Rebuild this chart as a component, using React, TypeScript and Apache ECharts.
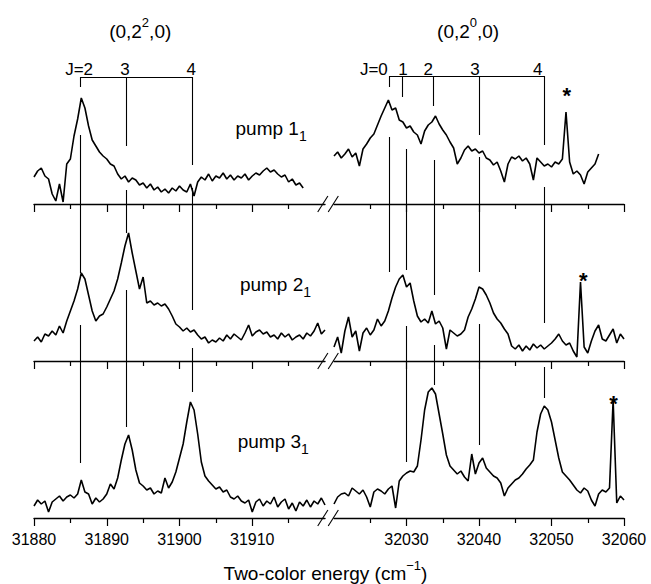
import React, { useEffect, useRef } from "react";
import * as echarts from "echarts";

// ---------- data ----------
const LEFT_START = 31880;
const RIGHT_START = 32020;
const STEP = 0.5;

const LEFT_RANGE = [31880, 31920];
const RIGHT_RANGE = [32020, 32060];
const LEFT_MAJOR = [31880, 31890, 31900, 31910];
const LEFT_MINOR = [31885, 31895, 31905, 31915];
const RIGHT_MAJOR = [32030, 32040, 32050, 32060];
const RIGHT_MINOR = [32025, 32035, 32045, 32055];

// pump 1_1 signal (arb. units), sampled every 0.5 cm-1
const PUMP1_LEFT = [27, 33, 36, 28, 25, 10, 3, 20, 2, 40, 45, 68, 85, 106, 96, 78, 64, 58, 52, 48, 45, 40, 38, 30, 25, 28, 22, 26, 24, 19, 21, 16, 20, 14, 17, 12, 15, 11, 16, 13, 18, 14, 12, 20, 8, 22, 27, 24, 30, 23, 28, 26, 31, 25, 29, 24, 28, 26, 30, 24, 28, 31, 29, 33, 36, 32, 34, 30, 27, 29, 22, 25, 19, 21, 16];
const PUMP1_RIGHT = [48, 52, 46, 50, 55, 47, 51, 38, 55, 60, 66, 70, 79, 88, 96, 104, 94, 96, 84, 82, 76, 78, 72, 69, 60, 73, 79, 82, 88, 80, 74, 69, 62, 56, 40, 46, 54, 58, 53, 55, 51, 53, 46, 44, 39, 42, 33, 22, 40, 47, 45, 48, 43, 46, 40, 24, 46, 42, 38, 40, 37, 42, 40, 45, 92, 42, 30, 33, 29, 20, 32, 36, 40, 50];
// pump 2_1
const PUMP2_LEFT = [20, 24, 19, 27, 25, 30, 26, 35, 28, 40, 50, 60, 72, 88, 82, 66, 50, 40, 45, 47, 54, 62, 70, 82, 98, 115, 128, 108, 90, 72, 84, 58, 60, 56, 58, 55, 57, 52, 45, 37, 34, 30, 33, 29, 31, 26, 22, 24, 18, 21, 19, 23, 20, 26, 22, 27, 24, 21, 28, 36, 25, 29, 31, 27, 29, 24, 26, 22, 28, 24, 27, 21, 24, 26, 22, 28, 25, 30, 38, 27, 31];
const PUMP2_RIGHT = [14, 24, 8, 30, 44, 24, 30, 10, 28, 33, 26, 31, 42, 35, 40, 50, 63, 74, 82, 86, 74, 78, 60, 45, 39, 42, 38, 50, 37, 40, 33, 12, 31, 28, 25, 27, 31, 44, 52, 62, 74, 72, 66, 58, 48, 42, 38, 32, 27, 15, 12, 16, 10, 15, 11, 17, 13, 16, 12, 15, 18, 22, 27, 20, 16, 18, 10, 4, 79, 14, 8, 20, 30, 36, 22, 20, 26, 32, 18, 27, 22];
// pump 3_1
const PUMP3_LEFT = [12, 18, 14, 17, 6, 16, 19, 22, 17, 21, 23, 20, 24, 38, 26, 24, 14, 20, 16, 19, 24, 34, 29, 40, 58, 74, 83, 68, 48, 35, 32, 28, 30, 24, 27, 25, 40, 30, 36, 46, 60, 74, 96, 116, 108, 84, 56, 42, 37, 33, 29, 31, 26, 28, 21, 19, 22, 17, 15, 18, 6, 16, 19, 12, 17, 14, 21, 11, 16, 19, 9, 15, 7, 16, 12, 18, 11, 17, 14, 20, 13];
const PUMP3_RIGHT = [14, 21, 24, 25, 22, 30, 27, 24, 28, 21, 11, 26, 29, 27, 24, 29, 32, 10, 37, 42, 45, 47, 46, 52, 78, 108, 126, 130, 124, 104, 84, 63, 52, 48, 44, 47, 41, 37, 64, 44, 55, 60, 50, 46, 42, 40, 35, 22, 30, 34, 38, 40, 44, 49, 53, 58, 86, 104, 112, 108, 96, 78, 60, 46, 42, 38, 33, 28, 25, 30, 27, 18, 12, 24, 28, 26, 30, 118, 15, 22, 18];

// rotational line positions (cm-1)
const LEFT_J_X = [31886.4, 31892.7, 31901.8]; // (0,2^2,0) J=2,3,4
const RIGHT_J_X = [32027.6, 32030.0, 32033.8, 32040.0, 32049.0]; // (0,2^0,0) J=0..4
const RIGHT_BRACKET_X = [32027.6, 32029.4, 32033.7, 32040.0, 32049.0];
const LEFT_J_LABELS = ["J=2", "3", "4"];
const LEFT_J_LABEL_X = [31886.2, 31892.5, 31901.6];
const RIGHT_J_LABELS = ["J=0", "1", "2", "3", "4"];
const RIGHT_J_LABEL_X = [32025.5, 32029.5, 32033.0, 32039.45, 32048.1];
const STAR_X = [32052.1, 32054.4, 32058.55];
const PUMP_LABELS = ["1", "2", "3"];
const PUMP_LABEL_X = [31907.7, 31908.3, 31908.0];
const HEADER_X = [31894.6, 32038.5];
const HEADER_SUP = ["2", "0"];

// ---------- layout ----------
const FONT = '"Liberation Sans", Arial, Helvetica, sans-serif';
const PANEL_TOP = [0, 204, 361];
const PANEL_H = [204, 157, 157];
const SIDE_LEFT = [34, 334];
const SIDE_W = [291, 290];
const BLACK = "#000";

const traces = [
  [PUMP1_LEFT, PUMP1_RIGHT],
  [PUMP2_LEFT, PUMP2_RIGHT],
  [PUMP3_LEFT, PUMP3_RIGHT],
];

const rich = {
  m: { fontSize: 19, fontFamily: FONT, fill: BLACK, lineHeight: 30 },
  t: { fontSize: 19, fontFamily: FONT, fill: BLACK, lineHeight: 28 },
  sup: { fontSize: 13, fontFamily: FONT, fill: BLACK, lineHeight: 12, verticalAlign: "top" },
  sub: { fontSize: 14, fontFamily: FONT, fill: BLACK, lineHeight: 14, verticalAlign: "bottom" },
  j: { fontSize: 17, fontFamily: FONT, fill: BLACK, lineHeight: 20 },
  star: { fontSize: 22, fontFamily: FONT, fontWeight: "bold", fill: BLACK, lineHeight: 22 },
};

function seg(x: number, y1: number, y2: number) {
  return { coords: [[x, y1], [x, y2]] };
}

// text annotations: [grid index, x, y (panel units), rich text, align]
function textSpecs() {
  const out: [number, number, number, string, string][] = [];
  for (let s = 0; s < 2; s++) {
    out.push([s, HEADER_X[s], 173, `{m|(0,2}{sup|${HEADER_SUP[s]}}{m|,0)}`, "center"]);
    const labs = s === 0 ? LEFT_J_LABELS : RIGHT_J_LABELS;
    const lx = s === 0 ? LEFT_J_LABEL_X : RIGHT_J_LABEL_X;
    labs.forEach((t, i) => out.push([s, lx[i], 135, `{j|${t}}`, "center"]));
  }
  for (let p = 0; p < 3; p++) {
    out.push([p * 2, PUMP_LABEL_X[p], p === 0 ? 76 : 77, `{m|pump ${PUMP_LABELS[p]}}{sub|1}`, "left"]);
    out.push([p * 2 + 1, STAR_X[p], [109, 80.5, 114.5][p], `{star|*}`, "center"]);
  }
  return out;
}

function buildOption() {
  const grid: any[] = [];
  const xAxis: any[] = [];
  const yAxis: any[] = [];
  const series: any[] = [];

  const [L2, L3, L4] = LEFT_J_X;
  const [R0, R1, R2, R3, R4] = RIGHT_J_X;
  const BRK_L = 31919.7;
  const BRK_R = 32019.9;

  const annot: any[][][] = [
    [
      [
        { coords: [[L2, 127], [L4, 127]] },
        seg(L2, 127, 117), seg(L3, 127, 58), seg(L4, 127, 39),
        seg(L2, 69, 0), seg(L3, 14, 0), seg(L4, 16, 0),
      ],
      [
        { coords: [[RIGHT_BRACKET_X[0], 128], [RIGHT_BRACKET_X[4], 128]] },
        seg(RIGHT_BRACKET_X[0], 128, 117), seg(RIGHT_BRACKET_X[1], 128, 107),
        seg(RIGHT_BRACKET_X[2], 128, 98), seg(RIGHT_BRACKET_X[3], 128, 69),
        seg(RIGHT_BRACKET_X[4], 128, 59),
        seg(R0, 67, 0), seg(R1, 55, 0), seg(R2, 44, 0), seg(R3, 47, 0), seg(R4, 17, 0),
      ],
    ],
    [
      [
        seg(L2, 157, 88), seg(L2, 36, 0), seg(L3, 157, 128), seg(L3, 71, 0),
        seg(L4, 157, 51), seg(L4, 13, 0),
      ],
      [
        seg(R0, 157, 89), seg(R1, 157, 91), seg(R1, 35, 0), seg(R2, 157, 66), seg(R2, 16, 0),
        seg(R3, 157, 89), seg(R3, 37, 0), seg(R4, 157, 38),
      ],
    ],
    [
      [seg(L2, 157, 55), seg(L3, 157, 91), seg(L4, 157, 126)],
      [seg(R1, 157, 56), seg(R2, 157, 133), seg(R3, 157, 73), seg(R4, 151, 120)],
    ],
  ];

  for (let p = 0; p < 3; p++) {
    for (let s = 0; s < 2; s++) {
      const g = p * 2 + s;
      grid.push({ left: SIDE_LEFT[s], width: SIDE_W[s], top: PANEL_TOP[p], height: PANEL_H[p] });
      const range = s === 0 ? LEFT_RANGE : RIGHT_RANGE;
      const major = s === 0 ? LEFT_MAJOR : RIGHT_MAJOR;
      const minor = s === 0 ? LEFT_MINOR : RIGHT_MINOR;
      xAxis.push({
        type: "value", gridIndex: g, min: range[0], max: range[1], position: "bottom",
        axisLine: { show: true, onZero: false, lineStyle: { color: BLACK, width: 1.4 } },
        axisTick: { show: true, customValues: major, length: 8, lineStyle: { color: BLACK, width: 1.2 } },
        axisLabel: {
          show: p === 2, customValues: major, color: BLACK, fontSize: 16, fontFamily: FONT, margin: 13,
          formatter: (v: number) => String(v),
        },
        splitLine: { show: false },
      });
      xAxis.push({
        type: "value", gridIndex: g, min: range[0], max: range[1], position: "bottom",
        axisLine: { show: false, onZero: false },
        axisTick: { show: true, customValues: minor, length: 5, lineStyle: { color: BLACK, width: 1.2 } },
        axisLabel: { show: false },
        splitLine: { show: false },
      });
      yAxis.push({ type: "value", gridIndex: g, min: 0, max: PANEL_H[p], show: false });

      const start = s === 0 ? LEFT_START : RIGHT_START;
      series.push({
        type: "line", xAxisIndex: g * 2, yAxisIndex: g, silent: true,
        data: traces[p][s].map((v, i) => [start + i * STEP, v]),
        showSymbol: false, symbol: "none",
        lineStyle: { color: BLACK, width: 1.6 },
        z: 3,
      });

      const brkX = s === 0 ? BRK_L : BRK_R;
      const lines = annot[p][s].concat([
        { coords: [[brkX - 0.7, -8], [brkX + 0.7, 8]] },
      ]);
      series.push({
        type: "lines", coordinateSystem: "cartesian2d", xAxisIndex: g * 2, yAxisIndex: g,
        silent: true, clip: false, polyline: false,
        data: lines,
        lineStyle: { color: BLACK, width: 1.1, opacity: 1, curveness: 0 },
        z: 4,
      });
    }
  }

  return {
    animation: false,
    backgroundColor: "#fff",
    grid, xAxis, yAxis, series,
  };
}

export default function App() {
  const ref = useRef<HTMLDivElement>(null);
  useEffect(() => {
    document.body.style.margin = "0";
    const chart = echarts.init(ref.current!, null, { renderer: "svg" });
    chart.setOption(buildOption() as any);
    const graphic: any[] = textSpecs().map(([g, x, y, text, align]) => {
      const pt = chart.convertToPixel({ xAxisIndex: g * 2, yAxisIndex: g } as any, [x, y]) as number[];
      return {
        type: "text", x: pt[0], y: pt[1], silent: true, z: 10,
        style: { text, rich, align, verticalAlign: "middle", fill: BLACK },
      };
    });
    graphic.push({
      type: "text", x: 325.5, y: 573, silent: true, z: 10,
      style: {
        text: "{t|Two-color energy (cm}{sup|\u22121}{t|)}",
        rich, align: "center", verticalAlign: "middle", fill: BLACK,
      },
    });
    chart.setOption({ graphic });
    return () => chart.dispose();
  }, []);
  return (
    <div
      ref={ref}
      style={{ position: "absolute", left: 0, top: 0, width: 651, height: 584, background: "#fff" }}
    />
  );
}
